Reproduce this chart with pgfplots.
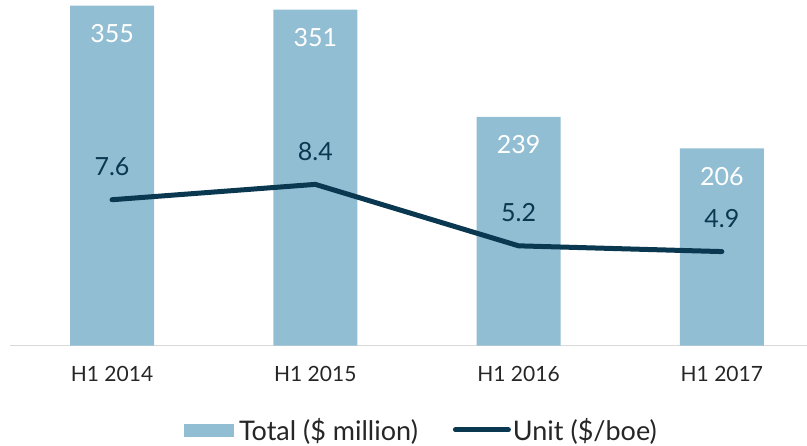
\documentclass[border=0pt]{standalone}
\usepackage{pgfplots}
\pgfplotsset{compat=1.18}
\usepackage{fontspec}
\setmainfont{Lato}
\definecolor{barblue}{RGB}{146,190,211}
\definecolor{navy}{RGB}{10,56,80}
\definecolor{txt}{RGB}{38,38,38}
\begin{document}
\begin{tikzpicture}[x=1pt,y=1pt]
\useasboundingbox (-10,-100.3) rectangle (797,345.7);
\begin{axis}[
  scale only axis, width=797pt, height=345.7pt,
  xmin=-0.502, xmax=3.419, ymin=0, ymax=361,
  axis y line=none, axis x line*=bottom,
  x axis line style={draw=black!15, line width=1.5pt, -},
  xtick={0,1,2,3}, xticklabels={H1 2014,H1 2015,H1 2016,H1 2017},
  xtick style={draw=none},
  xticklabel style={font=\fontsize{21}{24}\selectfont, text=txt, anchor=center, yshift=-24pt},
  ybar, bar width=84pt,
  nodes near coords, point meta=explicit symbolic,
  nodes near coords style={font=\fontsize{25}{28}\selectfont, text=white, anchor=center, yshift=-28pt},
]
\addplot[fill=barblue, draw=none] coordinates {(0,355) [355] (1,351) [351] (2,239) [239] (3,206) [206]};
\end{axis}
\begin{axis}[
  scale only axis, width=797pt, height=345.7pt,
  xmin=-0.502, xmax=3.419, ymin=0, ymax=18,
  axis lines=none,
  nodes near coords, point meta=explicit symbolic,
  nodes near coords style={font=\fontsize{25}{28}\selectfont, text=navy, anchor=center, yshift=33pt},
  legend columns=2,
  legend style={at={(0.516,-0.2433)}, anchor=center, draw=none, fill=none,
    font=\fontsize{27}{30}\selectfont, text=txt,
    /tikz/every even column/.append style={column sep=33pt}},
]
\addlegendimage{area legend, legend image code/.code={\fill[barblue] (0pt,-6pt) rectangle (49pt,6pt); \path (53pt,0pt);}}
\addlegendentry{Total (\$ million)}
\addplot[navy, line width=5pt, line cap=round, line join=round,
  legend image code/.code={\draw[navy, line width=5pt, line cap=round] (0pt,0pt) -- (53pt,0pt);}]
  coordinates {(0,7.6) [7.6] (1,8.4) [8.4] (2,5.2) [5.2] (3,4.9) [4.9]};
\addlegendentry{Unit (\$/boe)}
\end{axis}
\end{tikzpicture}
\end{document}
